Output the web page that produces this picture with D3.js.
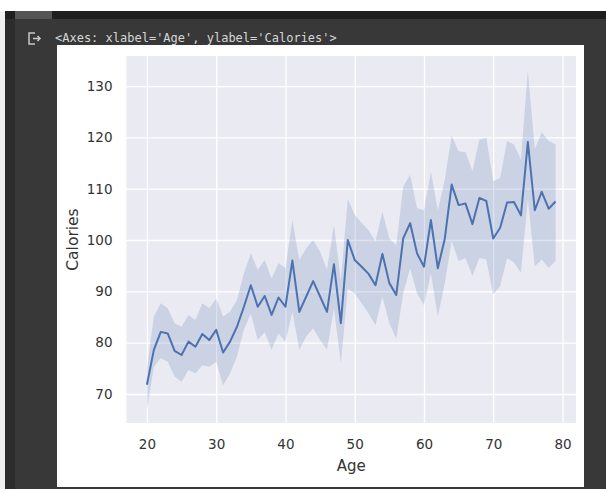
<!DOCTYPE html>
<html>
<head>
<meta charset="utf-8">
<script src="https://cdn.jsdelivr.net/npm/d3@7"></script>
<style>
  html, body { margin: 0; padding: 0; background: #383838; }
  svg { display: block; }
</style>
</head>
<body>
<svg id="chart" width="606" height="489"></svg>
<script>
// ages on the x axis
var ages = [20, 21, 22, 23, 24, 25, 26, 27, 28, 29,
            30, 31, 32, 33, 34, 35, 36, 37, 38, 39,
            40, 41, 42, 43, 44, 45, 46, 47, 48, 49,
            50, 51, 52, 53, 54, 55, 56, 57, 58, 59,
            60, 61, 62, 63, 64, 65, 66, 67, 68, 69,
            70, 71, 72, 73, 74, 75, 76, 77, 78, 79];

// mean calories per age
var calories = [71.8, 78.6, 82.1, 81.8, 78.4, 77.6, 80.2, 79.2, 81.7, 80.5,
                82.5, 78.1, 80.2, 83.1, 87.0, 91.2, 87.0, 89.1, 85.4, 88.8,
                87.0, 96.0, 86.0, 89.0, 92.0, 89.0, 86.0, 95.3, 83.8, 100.0,
                96.1, 94.8, 93.4, 91.2, 97.3, 91.6, 89.3, 100.3, 103.3, 97.4,
                94.8, 103.9, 94.5, 100.2, 110.8, 106.8, 107.1, 103.1, 108.2, 107.6,
                100.3, 102.4, 107.3, 107.4, 104.8, 119.1, 105.8, 109.4, 106.1, 107.5];

// confidence band
var ciUpper = [75.0, 85.1, 87.7, 86.7, 83.8, 83.1, 85.4, 84.4, 87.7, 86.7,
               88.6, 85.1, 86.0, 88.3, 93.5, 97.4, 94.2, 96.1, 92.5, 95.5,
               94.5, 103.9, 96.1, 98.4, 100.0, 97.7, 94.2, 102.9, 92.2, 108.0,
               104.9, 103.3, 101.9, 99.7, 105.5, 100.3, 99.0, 110.4, 112.7, 106.2,
               105.8, 113.3, 105.8, 111.7, 120.3, 117.3, 117.1, 113.4, 119.6, 119.9,
               111.5, 112.1, 119.3, 118.6, 115.7, 133.0, 117.7, 121.0, 119.3, 118.6];

var ciLower = [66.9, 75.3, 77.0, 76.3, 73.4, 72.4, 74.7, 74.0, 75.6, 75.3,
               76.3, 71.7, 74.0, 77.3, 82.5, 85.7, 80.5, 82.1, 78.6, 81.8,
               80.2, 86.0, 78.6, 81.2, 82.8, 80.5, 78.6, 86.7, 76.0, 90.5,
               89.6, 87.7, 85.7, 83.4, 89.0, 83.8, 80.8, 89.6, 94.5, 89.6,
               87.3, 93.5, 85.1, 91.6, 99.8, 95.9, 96.5, 93.0, 96.5, 96.2,
               89.4, 91.0, 96.5, 95.6, 93.6, 108.0, 94.9, 96.2, 94.6, 95.9];

var xTicks = [20, 30, 40, 50, 60, 70, 80];
var yTicks = [70, 80, 90, 100, 110, 120, 130];

var svg = d3.select('#chart');

// notebook chrome
svg.append('rect').attr('x', 0).attr('y', 0).attr('width', 606).attr('height', 11).attr('fill', '#ffffff');
svg.append('rect').attr('x', 5).attr('y', 11).attr('width', 601).attr('height', 8).attr('fill', '#1f1f1f');
svg.append('rect').attr('x', 15).attr('y', 11).attr('width', 37).attr('height', 8).attr('fill', '#555555');
svg.append('rect').attr('x', 0).attr('y', 11).attr('width', 5).attr('height', 478).attr('fill', '#f0f0f0');
svg.append('rect').attr('x', 5).attr('y', 19).attr('width', 10).attr('height', 470).attr('fill', '#2c2c2c');

// output icon
var icon = svg.append('g').attr('fill', 'none').attr('stroke', '#c8c8c8').attr('stroke-width', 1.5);
icon.append('path').attr('d', 'M35,33 L29,33 L29,44 L35,44');
icon.append('path').attr('d', 'M33,38.5 L40,38.5 M37.5,36 L40,38.5 L37.5,41');

svg.append('text')
    .attr('x', 55).attr('y', 41.5)
    .attr('font-family', 'DejaVu Sans Mono, monospace')
    .attr('font-size', 12)
    .attr('fill', '#d6d6d6')
    .text("<Axes: xlabel='Age', ylabel='Calories'>");

// figure
svg.append('rect').attr('x', 57).attr('y', 45).attr('width', 527).attr('height', 442).attr('fill', '#ffffff');

var plotL = 126.5, plotR = 576, plotT = 56, plotB = 423;

var x = d3.scaleLinear().domain([17.05, 81.95]).range([plotL, plotR]);
var y = d3.scaleLinear().domain([64.35, 135.85]).range([plotB, plotT]);

svg.append('rect')
    .attr('x', plotL).attr('y', plotT)
    .attr('width', plotR - plotL).attr('height', plotB - plotT)
    .attr('fill', '#eaeaf2');

var xAxis = svg.append('g')
    .attr('transform', 'translate(0,' + plotB + ')')
    .call(d3.axisBottom(x).tickValues(xTicks).tickSize(-(plotB - plotT)).tickPadding(16).tickFormat(d3.format('d')));

var yAxis = svg.append('g')
    .attr('transform', 'translate(' + plotL + ',0)')
    .call(d3.axisLeft(y).tickValues(yTicks).tickSize(-(plotR - plotL)).tickPadding(14).tickFormat(d3.format('d')));

[xAxis, yAxis].forEach(function (g) {
    g.select('.domain').remove();
    g.selectAll('.tick line').attr('stroke', '#ffffff').attr('stroke-width', 1.3);
    g.selectAll('.tick text')
        .attr('fill', '#333333')
        .attr('font-family', 'DejaVu Sans, sans-serif')
        .attr('font-size', 13.5);
});

var rows = ages.map(function (a, i) {
    return { age: a, mean: calories[i], lo: ciLower[i], hi: ciUpper[i] };
});

var area = d3.area()
    .x(function (d) { return x(d.age); })
    .y0(function (d) { return y(d.lo); })
    .y1(function (d) { return y(d.hi); });

var line = d3.line()
    .x(function (d) { return x(d.age); })
    .y(function (d) { return y(d.mean); });

svg.append('path')
    .datum(rows)
    .attr('d', area)
    .attr('fill', '#4c72b0')
    .attr('fill-opacity', 0.2);

svg.append('path')
    .datum(rows)
    .attr('d', line)
    .attr('fill', 'none')
    .attr('stroke', '#4c72b0')
    .attr('stroke-width', 2)
    .attr('stroke-linejoin', 'round');

// axis labels
svg.append('text')
    .attr('x', (plotL + plotR) / 2).attr('y', 471)
    .attr('text-anchor', 'middle')
    .attr('font-family', 'DejaVu Sans, sans-serif')
    .attr('font-size', 15)
    .attr('fill', '#333333')
    .text('Age');

svg.append('text')
    .attr('transform', 'translate(78,' + ((plotT + plotB) / 2) + ') rotate(-90)')
    .attr('text-anchor', 'middle')
    .attr('font-family', 'DejaVu Sans, sans-serif')
    .attr('font-size', 15.5)
    .attr('fill', '#333333')
    .text('Calories');
</script>
</body>
</html>
